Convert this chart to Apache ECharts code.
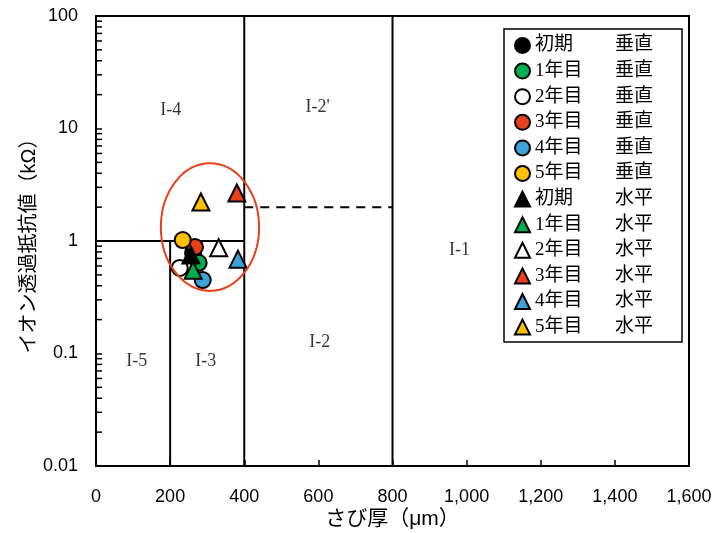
<!DOCTYPE html>
<html>
<head>
<meta charset="utf-8">
<script src="https://cdn.jsdelivr.net/npm/echarts@6/dist/echarts.min.js"></script>
<style>
  html, body { margin: 0; padding: 0; background: #fff; }
  #chart { width: 712px; height: 533px; }
</style>
</head>
<body>
<div id="chart"></div>
<script>
// Stages and measured values (rust thickness in μm, ion resistance in kΩ)
const stages = ['初期', '1年目', '2年目', '3年目', '4年目', '5年目'];
const stageColors = ['#000000', '#00b050', '#ffffff', '#e8401c', '#3ca3d8', '#ffc000'];

// 垂直 (vertical) specimens
const vertThickness = [262, 277, 226, 267, 288, 234];
const vertResistance = [0.78, 0.64, 0.576, 0.885, 0.45, 1.02];

// 水平 (horizontal) specimens
const horizThickness = [256, 262, 331, 380, 383, 283];
const horizResistance = [0.75, 0.55, 0.87, 2.67, 0.69, 2.22];

// Classification boundaries
const boundaryLines = [
  { points: [[200, 0.01], [200, 1]], dashed: false },
  { points: [[0, 1], [400, 1]], dashed: false },
  { points: [[400, 0.01], [400, 100]], dashed: false },
  { points: [[800, 0.01], [800, 100]], dashed: false },
  { points: [[400, 2], [800, 2]], dashed: true }
];

// Zone labels
const zoneLabels = [
  [202, 14.5, 'I-4'],
  [598, 15.5, "I-2'"],
  [981, 0.83, 'I-1'],
  [604, 0.127, 'I-2'],
  [110, 0.085, 'I-5'],
  [296, 0.085, 'I-3']
];

// Axis ticks
const xTicks = [0, 200, 400, 600, 800, 1000, 1200, 1400, 1600];
const yDecades = [0.01, 0.1, 1, 10, 100];
const minorMultipliers = [2, 3, 4, 5, 6, 7, 8, 9];

// Highlighted cluster (data-space bounds of the ellipse)
const clusterBounds = { xMin: 175, xMax: 440, yMin: 0.36, yMax: 4.9 };

const minorTickValues = [];
yDecades.slice(0, -1).forEach(d => minorMultipliers.forEach(m => minorTickValues.push([0, d * m])));

const serifFont = '"Liberation Serif", "Noto Sans CJK JP", serif';
const sansFont = '"Liberation Sans", "Noto Sans CJK JP", sans-serif';

const series = [];

boundaryLines.forEach(b => {
  series.push({
    type: 'line',
    data: b.points,
    symbol: 'none',
    silent: true,
    z: 1,
    lineStyle: { color: '#000', width: 2, type: b.dashed ? [9, 7] : 'solid' }
  });
});

series.push({
  type: 'scatter',
  data: zoneLabels,
  symbolSize: 0,
  silent: true,
  label: {
    show: true,
    position: 'inside',
    formatter: p => p.value[2],
    color: '#000',
    fontFamily: serifFont,
    fontSize: 18
  }
});

series.push({
  type: 'custom',
  data: minorTickValues,
  silent: true,
  z: 5,
  renderItem: (params, api) => {
    const p = api.coord([0, api.value(1)]);
    return {
      type: 'line',
      shape: { x1: p[0], y1: p[1], x2: p[0] + 6, y2: p[1] },
      style: { stroke: '#000', lineWidth: 1.5 }
    };
  }
});

const legendNames = [];
stages.forEach((s, i) => {
  const name = s + ' 垂直';
  legendNames.push(name);
  series.push({
    name,
    type: 'scatter',
    symbol: 'circle',
    symbolSize: 16,
    z: 10,
    itemStyle: { color: stageColors[i], borderColor: '#000', borderWidth: 2, opacity: 1 },
    data: [[vertThickness[i], vertResistance[i]]]
  });
});
stages.forEach((s, i) => {
  const name = s + ' 水平';
  legendNames.push(name);
  series.push({
    name,
    type: 'scatter',
    symbol: 'triangle',
    symbolSize: 17,
    z: 11,
    itemStyle: { color: stageColors[i], borderColor: '#000', borderWidth: 2, opacity: 1 },
    data: [[horizThickness[i], horizResistance[i]]]
  });
});

const legendBox = {
  type: 'rect',
  shape: { x: 504, y: 29, width: 178, height: 313 },
  style: { fill: 'none', stroke: '#000', lineWidth: 1.5 },
  z: 0
};

const chart = echarts.init(document.getElementById('chart'), null, { renderer: 'canvas' });

chart.setOption({
  animation: false,
  backgroundColor: '#fff',
  grid: {
    left: 96, top: 16, right: 23, bottom: 67,
    outerBoundsMode: 'none',
    containLabel: false,
    show: true, borderColor: '#000', borderWidth: 2, backgroundColor: 'transparent'
  },
  xAxis: {
    type: 'value',
    min: xTicks[0], max: xTicks[xTicks.length - 1], interval: 200,
    name: 'さび厚（μm）',
    nameLocation: 'middle',
    nameGap: 43,
    nameMoveOverlap: false,
    nameTextStyle: { fontFamily: sansFont, fontSize: 21, color: '#000' },
    axisLine: { lineStyle: { color: '#000', width: 2 } },
    axisTick: { inside: true, length: 6, lineStyle: { color: '#000', width: 1.5 } },
    splitLine: { show: false },
    axisLabel: {
      margin: 22,
      fontFamily: sansFont, fontSize: 18, color: '#000',
      formatter: v => v.toLocaleString('en-US')
    }
  },
  yAxis: {
    type: 'log',
    logBase: 10,
    min: yDecades[0], max: yDecades[yDecades.length - 1],
    name: 'イオン透過抵抗値（kΩ）',
    nameLocation: 'middle',
    nameRotate: 90,
    nameGap: 57,
    nameMoveOverlap: false,
    nameTextStyle: { fontFamily: sansFont, fontSize: 20, color: '#000' },
    axisLine: { show: true, lineStyle: { color: '#000', width: 2 } },
    axisTick: { show: true, inside: true, length: 6, lineStyle: { color: '#000', width: 1.5 } },
    splitLine: { show: false },
    axisLabel: {
      margin: 18,
      fontFamily: sansFont, fontSize: 18, color: '#000',
      formatter: v => String(+v.toPrecision(6))
    }
  },
  legend: {
    data: legendNames,
    orient: 'vertical',
    left: 514,
    top: 36,
    padding: 0,
    itemWidth: 15,
    itemHeight: 15,
    itemGap: 6.6,
    selectedMode: false,
    formatter: name => {
      const parts = name.split(' ');
      return '{a|' + parts[0] + '}{b|' + parts[1] + '}';
    },
    textStyle: {
      fontFamily: serifFont,
      fontSize: 19,
      color: '#000',
      rich: {
        a: { width: 80, fontFamily: serifFont, fontSize: 19, color: '#000' },
        b: { fontFamily: serifFont, fontSize: 19, color: '#000' }
      }
    }
  },
  graphic: [legendBox],
  series
});

// Ellipse around the measured cluster, placed through the axis scales
const tl = chart.convertToPixel({ gridIndex: 0 }, [clusterBounds.xMin, clusterBounds.yMax]);
const br = chart.convertToPixel({ gridIndex: 0 }, [clusterBounds.xMax, clusterBounds.yMin]);
chart.setOption({
  graphic: [legendBox, {
    type: 'ellipse',
    shape: {
      cx: (tl[0] + br[0]) / 2,
      cy: (tl[1] + br[1]) / 2,
      rx: (br[0] - tl[0]) / 2,
      ry: (br[1] - tl[1]) / 2
    },
    style: { fill: 'none', stroke: '#e8401c', lineWidth: 2 },
    z: 20
  }]
});
</script>
</body>
</html>
